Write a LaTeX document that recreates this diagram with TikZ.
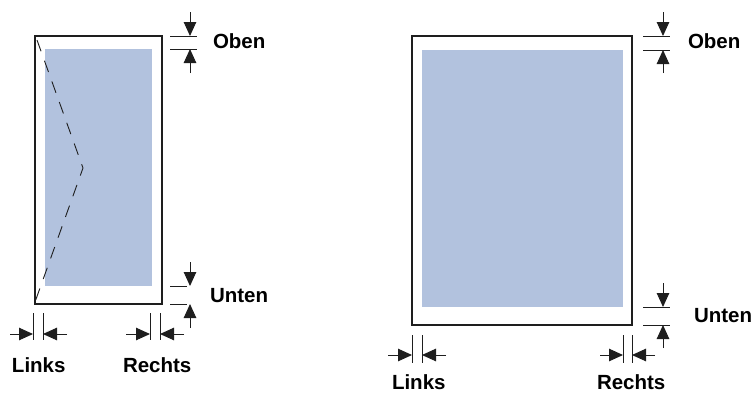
\documentclass[tikz,border=0pt]{standalone}
\usepackage{fontspec}
\setmainfont{Liberation Sans}
\usetikzlibrary{arrows.meta}
\definecolor{printblue}{RGB}{178,194,222}
\definecolor{inkblack}{RGB}{30,30,30}
\begin{document}
\begin{tikzpicture}[x=1pt,y=-1pt,
  page/.style={draw=inkblack,line width=2.6pt,fill=white},
  printarea/.style={fill=printblue,draw=none},
  dimline/.style={draw=inkblack,line width=1pt},
  dimarrow/.style={draw=inkblack,line width=1pt,-{Triangle[length=14pt,width=12.5pt]}},
  lbl/.style={inner sep=0pt,outer sep=0pt,text=black,font=\bfseries\fontsize{20.5}{24}\selectfont}]
\path[use as bounding box] (0,0) rectangle (755,392);
% left page, portrait with fold
\path[page] (35,36) rectangle (162,304);
\path[printarea] (45,49) rectangle (152,286);
\draw[inkblack,line width=0.9pt,dash pattern=on 12pt off 10pt] (37,40) -- (83,168) -- (35,302);
% left page, top margin
\path[dimline] (170,36) -- (197,36) (170,49) -- (197,49);
\path[dimarrow] (190,12) -- (190,36);
\path[dimarrow] (190,73) -- (190,49);
\node[lbl,anchor=base west] (obenL) at (213,48) {Oben};
% left page, bottom margin
\path[dimline] (170,286) -- (187,286) (170,304) -- (187,304);
\path[dimarrow] (190,262) -- (190,286);
\path[dimarrow] (190,328) -- (190,304);
\node[lbl,anchor=base west] (untenL) at (210,302) {Unten};
% left page, side margins
\path[dimline] (33,313) -- (33,340) (43,313) -- (43,340);
\path[dimarrow] (10,334) -- (33,334);
\path[dimarrow] (67,334) -- (43,334);
\node[lbl,anchor=base west] (linksL) at (12,372) {Links};
\path[dimline] (150,313) -- (150,340) (160,313) -- (160,340);
\path[dimarrow] (126,334) -- (150,334);
\path[dimarrow] (184,334) -- (160,334);
\node[lbl,anchor=base west] (rechtsL) at (123,372) {Rechts};
% right page
\path[page] (412,36) rectangle (632,325);
\path[printarea] (422,50) rectangle (623,307);
% right page, top margin
\path[dimline] (643,36) -- (670,36) (643,50) -- (670,50);
\path[dimarrow] (663,12) -- (663,36);
\path[dimarrow] (663,73) -- (663,50);
\node[lbl,anchor=base west] (obenR) at (688,48) {Oben};
% right page, bottom margin
\path[dimline] (643,307) -- (670,307) (643,325) -- (670,325);
\path[dimarrow] (663,283) -- (663,307);
\path[dimarrow] (663,348) -- (663,325);
\node[lbl,anchor=base west] (untenR) at (694,322) {Unten};
% right page, side margins
\path[dimline] (412,335) -- (412,363) (422,335) -- (422,363);
\path[dimarrow] (388,355) -- (412,355);
\path[dimarrow] (446,355) -- (422,355);
\node[lbl,anchor=base west] (linksR) at (392,389) {Links};
\path[dimline] (623,335) -- (623,363) (632,335) -- (632,363);
\path[dimarrow] (600,355) -- (623,355);
\path[dimarrow] (655,355) -- (632,355);
\node[lbl,anchor=base west] (rechtsR) at (597,389) {Rechts};
\end{tikzpicture}
\end{document}
